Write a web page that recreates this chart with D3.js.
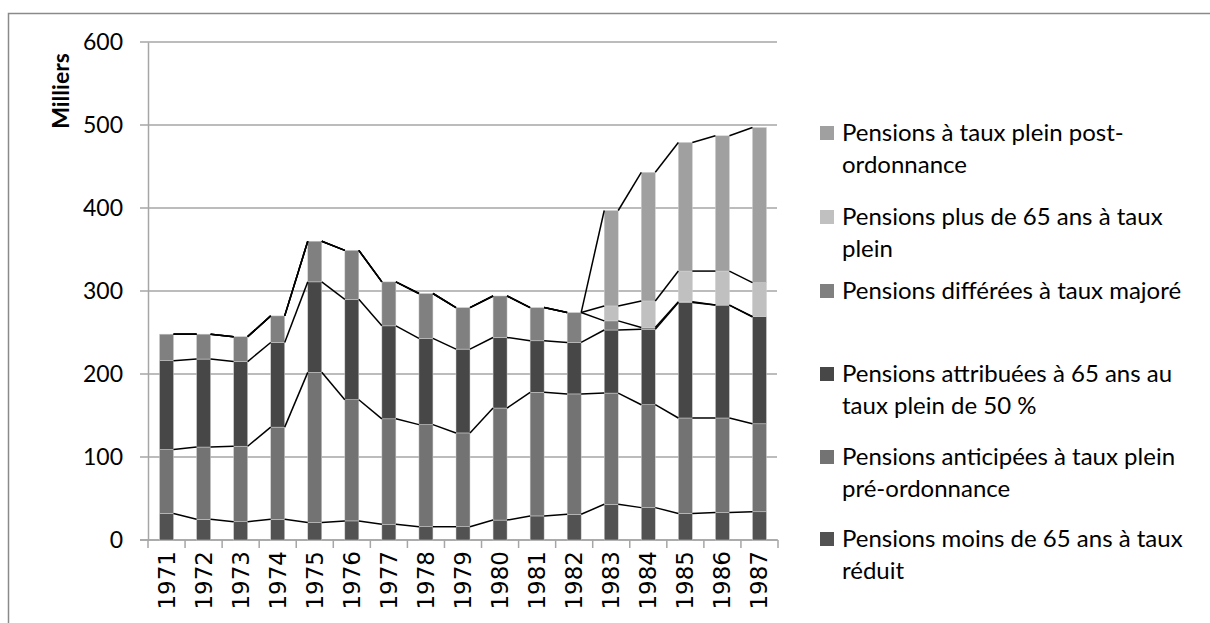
<!DOCTYPE html>
<html>
<head>
<meta charset="utf-8">
<script src="https://cdn.jsdelivr.net/npm/d3@7"></script>
<style>
  body { margin: 0; background: #fff; }
  svg text { font-family: Lato, "Open Sans", sans-serif; fill: #000; }
</style>
</head>
<body>
<svg id="chart" width="1210" height="623"></svg>
<script>
// years on the x axis
var years = ['1971','1972','1973','1974','1975','1976','1977','1978','1979','1980','1981','1982','1983','1984','1985','1986','1987'];

// series, bottom of the stack first (milliers)
var moins65Reduit   = [32, 25, 22, 25, 21, 23, 19, 16, 16, 24, 29, 31, 43, 39, 32, 33, 34];
var anticipeesPre   = [77, 87, 91, 111, 181, 146, 127, 123, 113, 135, 149, 145, 134, 124, 115, 114, 106];
var attribuees65    = [107, 106, 102, 102, 109, 121, 112, 104, 101, 85, 62, 62, 76, 91, 139, 136, 129];
var differeesMajore = [32, 30, 30, 32, 49, 59, 53, 54, 50, 50, 40, 36, 11, 2, 1, 0, 0];
var plus65Plein     = [0, 0, 0, 0, 0, 0, 0, 0, 0, 0, 0, 0, 18, 32, 37, 41, 41];
var postOrdonnance  = [0, 0, 0, 0, 0, 0, 0, 0, 0, 0, 0, 0, 115, 155, 155, 163, 187];

var yTicks = [0, 100, 200, 300, 400, 500, 600];

var seriesNames = [
  'Pensions moins de 65 ans à taux réduit',
  'Pensions anticipées à taux plein pré-ordonnance',
  'Pensions attribuées à 65 ans au taux plein de 50 %',
  'Pensions différées à taux majoré',
  'Pensions plus de 65 ans à taux plein',
  'Pensions à taux plein post-ordonnance'
];
// how each legend label breaks over lines
var legendLines = [
  ['Pensions moins de 65 ans à taux', 'réduit'],
  ['Pensions anticipées à taux plein', 'pré-ordonnance'],
  ['Pensions attribuées à 65 ans au', 'taux plein de 50 %'],
  ['Pensions différées à taux majoré'],
  ['Pensions plus de 65 ans à taux', 'plein'],
  ['Pensions à taux plein post-', 'ordonnance']
];
var colors = ['#525252', '#737373', '#474747', '#808080', '#c0c0c0', '#a0a0a0'];

var allSeries = [moins65Reduit, anticipeesPre, attribuees65, differeesMajore, plus65Plein, postOrdonnance];
var keys = ['s0','s1','s2','s3','s4','s5'];
var table = years.map(function(yr, i) {
  var row = { year: yr };
  keys.forEach(function(k, j) { row[k] = allSeries[j][i]; });
  return row;
});

var svg = d3.select('#chart');

// outer frame (runs off the right and bottom edges)
svg.append('rect')
  .attr('x', 8.5).attr('y', 13.5)
  .attr('width', 1300).attr('height', 700)
  .attr('fill', 'none')
  .attr('stroke', '#8a8a8a')
  .attr('stroke-width', 1.5);

var plotLeft = 148, plotRight = 778, plotTop = 42, plotBottom = 540;

var x = d3.scaleBand().domain(years).range([plotLeft, plotRight]).paddingInner(0).paddingOuter(0);
var y = d3.scaleLinear().domain([0, 600]).range([plotBottom, plotTop]);
var barW = 14;

// gridlines
svg.append('g')
  .selectAll('line')
  .data(yTicks)
  .enter()
  .append('line')
  .attr('x1', plotLeft - 8).attr('x2', plotRight - 1)
  .attr('y1', d => y(d)).attr('y2', d => y(d))
  .attr('stroke', '#a6a6a6')
  .attr('stroke-width', 1.5);

// y axis
var yAxis = d3.axisLeft(y).tickValues(yTicks).tickSize(0).tickPadding(25);
var yg = svg.append('g').attr('transform', `translate(${plotLeft},0)`).call(yAxis);
yg.select('.domain').attr('stroke', '#a6a6a6').attr('stroke-width', 1.5);
yg.selectAll('text')
  .style('font-family', 'Lato, sans-serif')
  .style('font-size', '23px')
  .attr('fill', '#000');

// x axis
var xg = svg.append('g').attr('transform', `translate(0,${plotBottom})`);
xg.append('line')
  .attr('x1', plotLeft - 8).attr('x2', plotRight)
  .attr('stroke', '#a6a6a6').attr('stroke-width', 1.5);
xg.selectAll('.sep')
  .data(years.concat(['end']))
  .enter()
  .append('line')
  .attr('x1', (d, i) => plotLeft + i * x.bandwidth())
  .attr('x2', (d, i) => plotLeft + i * x.bandwidth())
  .attr('y1', 0).attr('y2', 8)
  .attr('stroke', '#a6a6a6').attr('stroke-width', 1.5);

svg.append('g')
  .selectAll('text')
  .data(years)
  .enter()
  .append('text')
  .attr('transform', d => `translate(${x(d) + x.bandwidth() / 2 + 8},${plotBottom + 11}) rotate(-90)`)
  .attr('text-anchor', 'end')
  .style('font-family', '"DejaVu Sans", sans-serif')
  .style('font-size', '23px')
  .text(d => d);

// axis title
svg.append('text')
  .attr('transform', 'translate(69,91) rotate(-90)')
  .attr('text-anchor', 'middle')
  .style('font-size', '23px')
  .style('font-weight', 'bold')
  .text('Milliers');

// stacked bars
var stacked = d3.stack().keys(keys)(table);

svg.append('g')
  .selectAll('g')
  .data(stacked)
  .enter()
  .append('g')
  .attr('fill', (d, i) => colors[i])
  .selectAll('rect')
  .data(d => d)
  .enter()
  .append('rect')
  .attr('x', d => x(d.data.year) + x.bandwidth() / 2 - barW / 2)
  .attr('width', barW)
  .attr('y', d => y(d[1]))
  .attr('height', d => y(d[0]) - y(d[1]))
  .attr('stroke', '#d0d0d0')
  .attr('stroke-width', 0.5);

// series lines between the bars
var connectors = [];
stacked.forEach(function(layer) {
  for (var i = 0; i < layer.length - 1; i++) {
    connectors.push({ a: layer[i], b: layer[i + 1] });
  }
});
svg.append('g')
  .selectAll('line')
  .data(connectors)
  .enter()
  .append('line')
  .attr('x1', d => x(d.a.data.year) + x.bandwidth() / 2 + barW / 2)
  .attr('x2', d => x(d.b.data.year) + x.bandwidth() / 2 - barW / 2)
  .attr('y1', d => y(d.a[1]))
  .attr('y2', d => y(d.b[1]))
  .attr('stroke', '#000')
  .attr('stroke-width', 1.5);

// legend, top series first
var legendY = [539, 457, 374, 291, 217, 133];
var lg = svg.append('g');
seriesNames.forEach(function(name, i) {
  var g = lg.append('g').attr('transform', `translate(820,${legendY[i]})`);
  g.append('rect')
    .attr('x', 0).attr('y', -7)
    .attr('width', 14).attr('height', 14)
    .attr('fill', colors[i]);
  legendLines[i].forEach(function(line, j) {
    g.append('text')
      .attr('x', 22)
      .attr('y', j * 32)
      .attr('dy', '0.35em')
      .style('font-size', '24px')
      .text(line);
  });
});
</script>
</body>
</html>
